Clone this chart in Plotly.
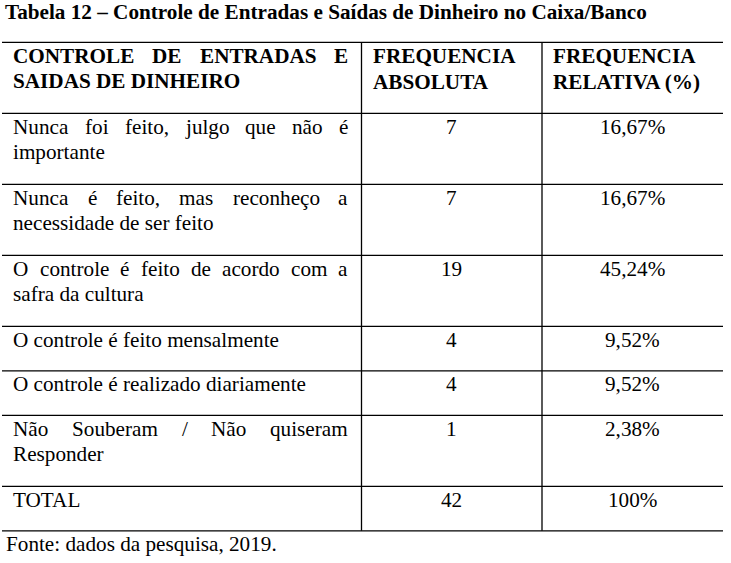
import plotly.graph_objects as go

# ---------------- data ----------------
title = "Tabela 12 – Controle de Entradas e Saídas de Dinheiro no Caixa/Banco"
headers = ["CONTROLE DE ENTRADAS E\nSAIDAS DE DINHEIRO",
           "FREQUENCIA\nABSOLUTA",
           "FREQUENCIA\nRELATIVA (%)"]
categories = [
    "Nunca foi feito, julgo que não é\nimportante",
    "Nunca é feito, mas reconheço a\nnecessidade de ser feito",
    "O controle é feito de acordo com a\nsafra da cultura",
    "O controle é feito mensalmente",
    "O controle é realizado diariamente",
    "Não Souberam / Não quiseram\nResponder",
]
absolute = [7, 7, 19, 4, 4, 1]
relative = [16.67, 16.67, 45.24, 9.52, 9.52, 2.38]
total_label = "TOTAL"
total_abs = 42
total_rel = 100
source = "Fonte: dados da pesquisa, 2019."

# ---------------- layout constants ----------------
W, H = 731, 563
FS = 21.2
FONT = "'Liberation Serif', 'Times New Roman', Times, serif"
X0, X1, X2, X3 = 2, 361.5, 542, 723
TXT_L, TXT_R = 13.2, 348.2
TOP = 42.3
ROW1 = 71.0      # height of two-line rows
ROW_1 = 44.5     # height of one-line rows
FIRST_BASE = 20.7
LINE_GAP = 25.5

REG = {' ': 250, ',': 250, '.': 250, '/': 278, ':': 278, '%': 833, '(': 333, ')': 333,
       'a': 444, 'b': 500, 'c': 444, 'd': 500, 'e': 444, 'f': 333, 'g': 500, 'h': 500,
       'i': 278, 'j': 278, 'k': 500, 'l': 278, 'm': 778, 'n': 500, 'o': 500, 'p': 500,
       'q': 500, 'r': 333, 's': 389, 't': 278, 'u': 500, 'v': 500, 'w': 722, 'x': 500,
       'y': 500, 'z': 444, 'é': 444, 'ã': 444, 'ç': 444, 'í': 278,
       'A': 722, 'B': 667, 'C': 667, 'D': 722, 'E': 611, 'F': 556, 'I': 333, 'L': 611,
       'N': 722, 'O': 722, 'R': 667, 'S': 556, 'T': 611, 'U': 722}
BOLD = {' ': 250, 'A': 722, 'B': 667, 'C': 722, 'D': 722, 'E': 667, 'F': 611, 'H': 778,
        'I': 389, 'L': 667, 'N': 722, 'O': 778, 'Q': 778, 'R': 722, 'S': 556, 'T': 667,
        'U': 722, 'V': 722, '(': 333, ')': 333, '%': 1000}


def width(s, bold=False):
    tab = BOLD if bold else REG
    return sum(tab.get(c, 500) for c in s) * FS / 1000.0


fig = go.Figure()
ann = []
shapes = []


def text(x, base, s, anchor="left", bold=False, size=FS):
    ann.append(dict(x=x, y=base - 0.3375 * size, xref="x", yref="y",
                    text=f"<b>{s}</b>" if bold else s, showarrow=False,
                    xanchor=anchor, yanchor="middle", borderpad=0, borderwidth=0,
                    font=dict(family=FONT, size=size, color="black")))


def justified(base, line, bold=False):
    words = line.split(" ")
    if len(words) < 2:
        text(TXT_L, base, line, bold=bold)
        return
    total = sum(width(w, bold) for w in words)
    gap = (TXT_R - TXT_L - total) / (len(words) - 1)
    x = TXT_L
    for i, w in enumerate(words):
        if i == len(words) - 1:
            text(TXT_R, base, w, anchor="right", bold=bold)
        else:
            text(x, base, w, bold=bold)
        x += width(w, bold) + gap


def first_col(top, label, bold=False):
    lines = label.split("\n")
    for i, ln in enumerate(lines):
        b = top + FIRST_BASE + i * LINE_GAP
        if i < len(lines) - 1:
            justified(b, ln, bold)
        else:
            text(TXT_L, b, ln, bold=bold)


def hline(y):
    shapes.append(dict(type="line", xref="x", yref="y", x0=X0, x1=X3, y0=y, y1=y,
                       line=dict(color="black", width=1.3)))


# title
text(5, 19.0, title, bold=True)

# header row
y = TOP
hline(y)
first_col(y, headers[0], bold=True)
for xl, h in ((X1 + 11.2, headers[1]), (X2 + 11.3, headers[2])):
    for i, ln in enumerate(h.split("\n")):
        text(xl, y + FIRST_BASE + i * (LINE_GAP + 1), ln, bold=True)
y += ROW1
hline(y)

rows = list(zip(categories, absolute, relative))
rows.append((total_label, total_abs, total_rel))
for cat, a, r in rows:
    nlines = len(cat.split("\n"))
    first_col(y, cat)
    text((X1 + X2) / 2, y + FIRST_BASE, str(a), anchor="center")
    rel = "100%" if r == 100 else f"{r:.2f}".replace(".", ",") + "%"
    text((X2 + X3) / 2, y + FIRST_BASE, rel, anchor="center")
    y += ROW1 if nlines > 1 else ROW_1
    hline(y)

# vertical separators
for xv in (X1, X2):
    shapes.append(dict(type="line", xref="x", yref="y", x0=xv, x1=xv, y0=TOP, y1=y,
                       line=dict(color="black", width=1.3)))

# source
text(6.2, 551.3, source)

fig.update_layout(
    width=W, height=H, margin=dict(l=0, r=0, t=0, b=0),
    paper_bgcolor="white", plot_bgcolor="white",
    font=dict(family=FONT),
    xaxis=dict(range=[0, W], visible=False, fixedrange=True),
    yaxis=dict(range=[H, 0], visible=False, fixedrange=True),
    annotations=ann, shapes=shapes, showlegend=False,
)
fig.write_html("out.html", config={"displayModeBar": False},
               post_script="document.body.style.margin='0px';document.body.style.overflow='hidden';")
